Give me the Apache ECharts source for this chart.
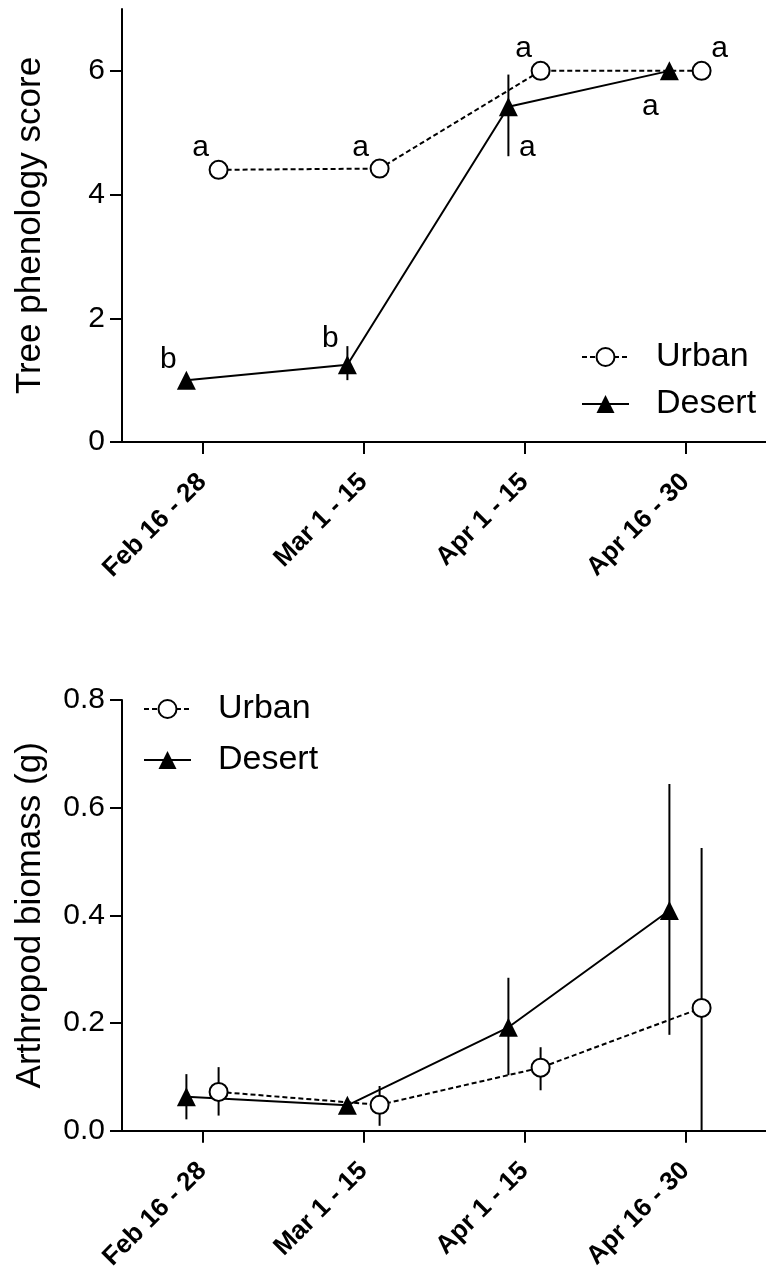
<!DOCTYPE html>
<html><head><meta charset="utf-8">
<script src="https://cdn.jsdelivr.net/npm/echarts@6/dist/echarts.min.js"></script>
<style>html,body{margin:0;padding:0;background:#fff}#c{width:766px;height:1273px}</style>
</head><body><div id="c"></div>
<script>
// ---------- data ----------
const categories = ['Feb 16 - 28', 'Mar 1 - 15', 'Apr 1 - 15', 'Apr 16 - 30'];
const scoreTicks = [0, 2, 4, 6];
const massTicks = [0, 0.2, 0.4, 0.6, 0.8];

// Tree phenology score
const urbanScore   = [4.40, 4.42, 6.00, 6.00];
const urbanScoreLo = [4.40, 4.42, 6.00, 6.00];
const urbanScoreHi = [4.40, 4.42, 6.00, 6.00];
const desertScore   = [1.00, 1.25, 5.42, 6.00];
const desertScoreLo = [1.00, 1.00, 4.62, 6.00];
const desertScoreHi = [1.00, 1.55, 5.94, 6.00];
const urbanLetters  = ['a', 'a', 'a', 'a'];
const desertLetters = ['b', 'b', 'a', 'a'];

// Arthropod biomass (g)
const urbanMass   = [0.072, 0.048, 0.117, 0.228];
const urbanMassLo = [0.028, 0.009, 0.075, -0.070];
const urbanMassHi = [0.118, 0.083, 0.155, 0.525];
const desertMass   = [0.063, 0.047, 0.192, 0.409];
const desertMassLo = [0.021, 0.047, 0.103, 0.178];
const desertMassHi = [0.105, 0.047, 0.284, 0.644];

// ---------- styling ----------
const FONT = "'Liberation Sans', Arial, sans-serif";
const URBAN_SHIFT = 0.1, DESERT_SHIFT = -0.1;
const urbanLetterOffsets  = [[-18, -22], [-19, -21], [-17, -22], [18, -22]];
const desertLetterOffsets = [[-18, -20], [-17, -26], [19, 41], [-19, 36]];
const positions = categories.map((c, i) => i + 1);

function xAxisCfg(gi) {
  return {
    type: 'value', gridIndex: gi, min: 0.5, max: 4.5,
    axisLine: { show: true, onZero: false, lineStyle: { color: '#000', width: 2 } },
    axisTick: { show: true, length: 12, customValues: positions, lineStyle: { color: '#000', width: 2 } },
    axisLabel: { customValues: positions, formatter: v => categories[Math.round(v) - 1], rotate: 45,
      fontSize: 26, fontWeight: 'bold', color: '#000', fontFamily: FONT, margin: 36 },
    splitLine: { show: false }
  };
}
function yAxisCfg(gi, max, ticks, fmt, name) {
  return {
    type: 'value', gridIndex: gi, min: 0, max: max,
    axisLine: { show: true, onZero: false, lineStyle: { color: '#000', width: 2 } },
    axisTick: { show: true, length: 12, customValues: ticks, lineStyle: { color: '#000', width: 2 } },
    axisLabel: { customValues: ticks, formatter: fmt, fontSize: 30, color: '#000', fontFamily: FONT, margin: 17 },
    splitLine: { show: false },
    name: name, nameLocation: 'middle', nameGap: 74,
    nameTextStyle: { fontSize: 35, color: '#000', fontFamily: FONT }
  };
}

function errRender(params, api) {
  const x = api.value(0), lo = api.value(1), hi = api.value(2);
  if (hi - lo <= 0) return { type: 'group', children: [] };
  const cs = params.coordSys;
  const p1 = api.coord([x, hi]), p2 = api.coord([x, lo]);
  const y1 = Math.max(cs.y, p1[1]), y2 = Math.min(cs.y + cs.height, p2[1]);
  return { type: 'line', shape: { x1: p1[0], y1: y1, x2: p2[0], y2: y2 },
    style: { stroke: '#000', lineWidth: 2 } };
}
function errSeries(gi, vals, lo, hi, shift) {
  return { type: 'custom', xAxisIndex: gi, yAxisIndex: gi, z: 1, silent: true,
    renderItem: errRender, data: vals.map((v, i) => [positions[i] + shift, lo[i], hi[i]]) };
}
function letterSeries(gi, vals, letters, offs, shift) {
  return { type: 'custom', xAxisIndex: gi, yAxisIndex: gi, z: 5, silent: true,
    renderItem: function (params, api) {
      const p = api.coord([api.value(0), api.value(1)]);
      const o = offs[params.dataIndex];
      return { type: 'text', x: p[0] + o[0], y: p[1] + o[1],
        style: { text: letters[params.dataIndex], fill: '#000', font: '30px ' + FONT, align: 'center', verticalAlign: 'middle' } };
    },
    data: vals.map((v, i) => [positions[i] + shift, v]) };
}
function urbanLine(gi, vals) {
  return { name: 'Urban', type: 'line', xAxisIndex: gi, yAxisIndex: gi, z: 3,
    symbol: 'circle', symbolSize: 18, showAllSymbol: true,
    lineStyle: { color: '#000', width: 2, type: [5, 3] },
    itemStyle: { color: '#fff', borderColor: '#000', borderWidth: 2 },
    data: vals.map((v, i) => [positions[i] + URBAN_SHIFT, v]) };
}
function desertLine(gi, vals) {
  return { name: 'Desert', type: 'line', xAxisIndex: gi, yAxisIndex: gi, z: 3,
    symbol: 'triangle', symbolSize: 19, showAllSymbol: true,
    lineStyle: { color: '#000', width: 2, type: 'solid' },
    itemStyle: { color: '#000', borderColor: '#000', borderWidth: 0 },
    data: vals.map((v, i) => [positions[i] + DESERT_SHIFT, v]) };
}
function legendCfg(left, top, gap) {
  return { orient: 'vertical', left: left, top: top, padding: 0, itemGap: gap,
    itemWidth: 47, itemHeight: 22.5, selectedMode: false, data: ['Urban', 'Desert'],
    textStyle: { fontSize: 34, color: '#000', fontFamily: FONT, padding: [0, 0, 0, 22] } };
}

const option = {
  animation: false,
  backgroundColor: '#fff',
  grid: [
    { left: 122, top: 9, width: 647, height: 433 },
    { left: 122, top: 700, width: 647, height: 433 }
  ],
  xAxis: [xAxisCfg(0), xAxisCfg(1)],
  yAxis: [
    yAxisCfg(0, 7, scoreTicks, v => String(v), 'Tree phenology score'),
    yAxisCfg(1, 0.8, massTicks, v => v.toFixed(1), 'Arthropod biomass (g)')
  ],
  legend: [legendCfg(581, 340, 13), legendCfg(143, 692, 17)],
  series: [
    errSeries(0, urbanScore, urbanScoreLo, urbanScoreHi, URBAN_SHIFT),
    errSeries(0, desertScore, desertScoreLo, desertScoreHi, DESERT_SHIFT),
    urbanLine(0, urbanScore),
    desertLine(0, desertScore),
    letterSeries(0, urbanScore, urbanLetters, urbanLetterOffsets, URBAN_SHIFT),
    letterSeries(0, desertScore, desertLetters, desertLetterOffsets, DESERT_SHIFT),
    errSeries(1, urbanMass, urbanMassLo, urbanMassHi, URBAN_SHIFT),
    errSeries(1, desertMass, desertMassLo, desertMassHi, DESERT_SHIFT),
    urbanLine(1, urbanMass),
    desertLine(1, desertMass)
  ]
};
const chart = echarts.init(document.getElementById('c'));
chart.setOption(option);
</script></body></html>
